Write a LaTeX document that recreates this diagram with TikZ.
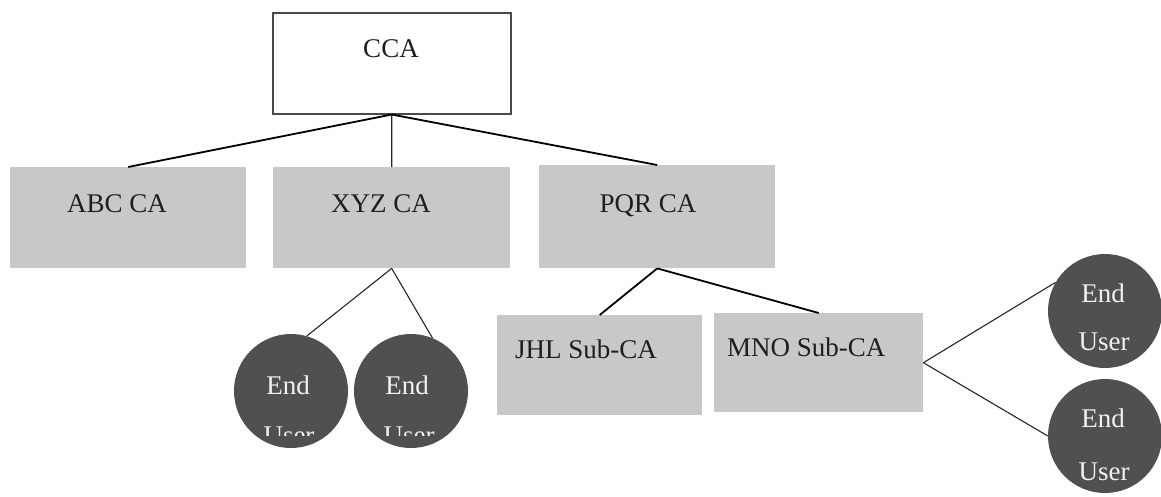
\documentclass[tikz,border=0pt]{standalone}
\usepackage{fontspec}
\setmainfont{Liberation Serif}
\definecolor{boxgray}{HTML}{C8C8C8}
\definecolor{circgray}{HTML}{505050}
\definecolor{txtdark}{HTML}{1E1E1E}
\definecolor{eutxt}{HTML}{F2F2F2}
\definecolor{edgegray}{HTML}{4A4A4A}
\begin{document}
\begin{tikzpicture}[x=1pt,y=-1pt,
  graybox/.style={fill=boxgray,draw=none,inner sep=0pt,anchor=north west},
  rootbox/.style={fill=white,draw=edgegray,line width=1.5pt,inner sep=0pt,anchor=north west},
  lbl/.style={text=txtdark,inner sep=0pt,font=\fontsize{27}{32}\selectfont},
  enduser/.style={circle,fill=circgray,draw=none,minimum size=114pt,inner sep=0pt},
  eulbl/.style={text=eutxt,inner sep=0pt,anchor=base,font=\fontsize{27}{32}\selectfont},
  thick conn/.style={draw=black,line width=1.8pt},
  thin conn/.style={draw=black!85,line width=1.1pt}]
\useasboundingbox (0,0) rectangle (1161,496);
\fill[white] (0,0) rectangle (1161,496);

% boxes
\node[rootbox,minimum width=238pt,minimum height=101pt] (cca) at (272,12) {};
\node[graybox,minimum width=236pt,minimum height=101pt] (abc) at (10,167) {};
\node[graybox,minimum width=237pt,minimum height=101pt] (xyz) at (273,167) {};
\node[graybox,minimum width=236pt,minimum height=103pt] (pqr) at (539,165) {};
\node[graybox,minimum width=205pt,minimum height=100pt] (jhl) at (497,315) {};
\node[graybox,minimum width=209pt,minimum height=99pt] (mno) at (714,313) {};

% box labels
\node[lbl,anchor=base] (ccat) at (391,57) {CCA};
\node[lbl,anchor=base] (abct) at (117,212) {ABC CA};
\node[lbl,anchor=base] (xyzt) at (381,212) {XYZ CA};
\node[lbl,anchor=base] (pqrt) at (648,212) {PQR CA};
\node[lbl,anchor=base west] (jhlt) at (515,358) {JHL Sub-CA};
\node[lbl,anchor=base west] (mnot) at (727,356) {MNO Sub-CA};

% end user circles
\node[enduser] (eu1) at (291,391) {};
\node[enduser] (eu2) at (411,391) {};
\node[enduser] (eu3) at (1105,311) {};
\node[enduser] (eu4) at (1105,436) {};

\node[eulbl] (eu1a) at (288,394) {End};
\node[eulbl] (eu2a) at (407,394) {End};
\begin{scope}
  \clip (220,300) rectangle (480,435);
  \node[eulbl] (eu1b) at (289,444) {User};
  \node[eulbl] (eu2b) at (409,444) {User};
\end{scope}
\node[eulbl] (eu3a) at (1103,302) {End};
\node[eulbl] (eu3b) at (1104,350) {User};
\node[eulbl] (eu4a) at (1103,427) {End};
\node[eulbl] (eu4b) at (1104,480) {User};

% connectors
\draw[thick conn] (cca.south) -- (abc.north);
\draw[thin conn] (cca.south) -- (xyz.north);
\draw[thick conn] (cca.south) -- (pqr.north);
\draw[thin conn] (xyz.south) -- (eu1.74);
\draw[thin conn] (xyz.south) -- (eu2.68);
\draw[thick conn] (pqr.south) -- (jhl.north);
\draw[thick conn] (pqr.south) -- (mno.north);
\draw[thin conn] (mno.east) -- (eu3.150);
\draw[thin conn] (mno.east) -- (eu4.180);
\end{tikzpicture}
\end{document}
